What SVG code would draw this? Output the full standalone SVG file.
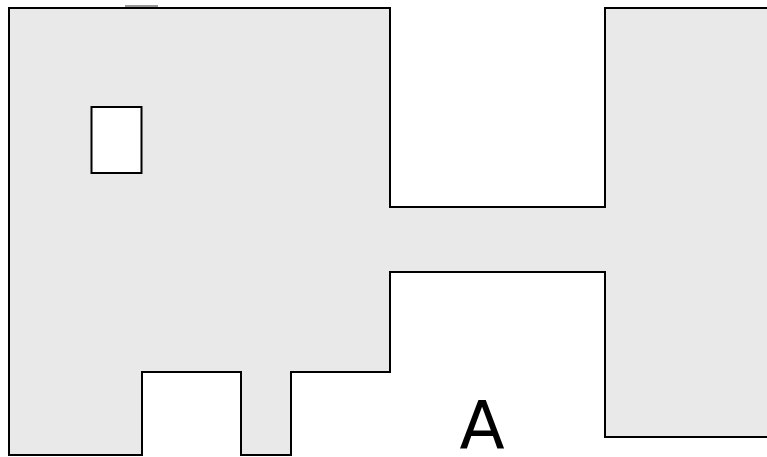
<svg xmlns="http://www.w3.org/2000/svg" width="767" height="457" viewBox="0 0 767 457">
<style>
.wall{fill:#e9e9e9;stroke:#000;stroke-width:2}
.room{fill:#fff;stroke:#000;stroke-width:2}
.lbl{font-family:"DejaVu Sans",sans-serif;font-size:66px;fill:#000}
</style>
<rect width="767" height="457" fill="#fff"/>
<g id="plan">
<path class="wall" d="M9,8 H390 V207 H605 V8 H772 V437 H605 V272 H390 V372 H291 V455 H241 V372 H142 V455 H9 Z"/>
<line x1="125" y1="6" x2="158" y2="6" stroke="#777" stroke-width="1.5"/>
</g>
<g id="opening">
<rect class="room" x="91.5" y="107" width="50" height="66"/>
</g>
<g id="label">
<text class="lbl" x="482" y="448" text-anchor="middle">A</text>
</g>
</svg>
